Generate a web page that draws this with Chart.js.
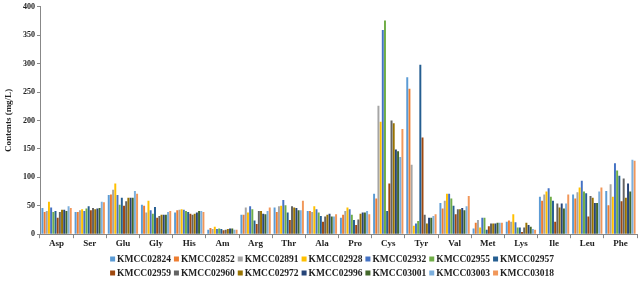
<!DOCTYPE html>
<html>
<head>
<meta charset="utf-8">
<script src="https://cdn.jsdelivr.net/npm/chart.js@4.4.1/dist/chart.umd.min.js"></script>
<style>
html,body{margin:0;padding:0;background:#fff;}
#wrap{width:644px;height:285px;position:relative;}
</style>
</head>
<body>
<div id="wrap"><canvas id="c" width="644" height="285"></canvas></div>
<script>
const categories = ["Asp","Ser","Glu","Gly","His","Am","Arg","Thr","Ala","Pro","Cys","Tyr","Val","Met","Lys","Ile","Leu","Phe"];
const seriesNames = ["KMCC02824","KMCC02852","KMCC02891","KMCC02928","KMCC02932","KMCC02955","KMCC02957","KMCC02959","KMCC02960","KMCC02972","KMCC02996","KMCC03001","KMCC03003","KMCC03018"];
const seriesColors = ["#5B9BD5","#ED7D31","#A5A5A5","#FFC000","#4472C4","#70AD47","#255E91","#9E480E","#636363","#997300","#264478","#43682B","#7CAFDD","#F1975A"];
// values per series, in category order
const KMCC02824 = [46,39,69,52,38,8,34,47,41,29,71,276,55,10,22,66,70,76];
const KMCC02852 = [39,39,70,50,42,11,34,39,41,34,63,256,45,20,24,59,63,51];
const KMCC02891 = [41,42,78,38,43,9,47,49,39,41,226,122,59,25,22,70,74,88];
const KMCC02928 = [57,44,89,59,44,13,38,50,49,47,198,15,71,12,35,75,82,66];
const KMCC02932 = [47,41,69,42,43,9,49,60,44,44,359,19,71,29,21,81,94,125];
const KMCC02955 = [39,45,52,36,41,10,44,51,38,34,376,23,63,29,12,66,75,112];
const KMCC02957 = [41,49,64,48,39,9,24,38,32,25,41,298,50,8,12,59,72,103];
const KMCC02959 = [29,42,50,29,36,7,18,25,22,16,89,170,35,14,4,22,31,58];
const KMCC02960 = [39,46,58,32,34,8,41,49,31,26,200,34,44,19,12,54,67,98];
const KMCC02972 = [43,44,64,34,36,9,41,47,34,36,195,19,44,19,20,47,64,64];
const KMCC02996 = [43,45,64,34,38,10,36,46,36,38,149,29,46,19,16,54,55,89];
const KMCC03001 = [41,46,64,34,41,10,35,42,31,38,146,29,42,20,13,45,55,75];
const KMCC03003 = [49,57,76,39,41,8,41,42,31,41,136,32,49,20,9,54,75,131];
const KMCC03018 = [46,56,71,41,39,8,47,59,35,35,185,35,67,20,8,70,82,129];
const seriesValues = [KMCC02824,KMCC02852,KMCC02891,KMCC02928,KMCC02932,KMCC02955,KMCC02957,KMCC02959,KMCC02960,KMCC02972,KMCC02996,KMCC03001,KMCC03003,KMCC03018];
const yTicks = [0,50,100,150,200,250,300,350,400];

const serif = "'Liberation Serif','Times New Roman',serif";
const datasets = seriesNames.map((n,i)=>({
  label:n, data:seriesValues[i], backgroundColor:seriesColors[i], borderWidth:0,
  categoryPercentage:0.92, barPercentage:0.9
}));

// legend drawn from the chart's datasets: 7 items per row, centred
const legendPlugin = {
  id:'rowLegend',
  afterDraw(chart){
    const ctx = chart.ctx;
    const ds = chart.data.datasets;
    const perRow = 7, box = 5, gap = 2, itemGap = 3;
    const rowsY = [259, 273];
    const cx = 332;
    ctx.save();
    ctx.font = "bold 9.5px " + serif;
    ctx.textBaseline = 'middle';
    for (let r=0; r*perRow<ds.length; r++){
      const items = ds.slice(r*perRow, r*perRow+perRow);
      const widths = items.map(d=>box+gap+ctx.measureText(d.label).width);
      const total = widths.reduce((a,b)=>a+b,0) + itemGap*(items.length-1);
      let x = cx - total/2;
      const y = rowsY[r];
      items.forEach((d,i)=>{
        ctx.fillStyle = d.backgroundColor;
        ctx.fillRect(x, y-box/2, box, box);
        ctx.fillStyle = '#222';
        ctx.fillText(d.label, x+box+gap, y+0.5);
        x += widths[i] + itemGap;
      });
    }
    ctx.restore();
  }
};

new Chart(document.getElementById('c'),{
  type:'bar',
  data:{labels:categories,datasets:datasets},
  plugins:[legendPlugin],
  options:{
    responsive:false, animation:false,
    layout:{padding:{left:3,right:7,top:2,bottom:36}},
    plugins:{
      legend:{display:false},
      tooltip:{enabled:false}
    },
    scales:{
      x:{
        grid:{display:true,drawOnChartArea:false,offset:true,tickLength:4,color:'#888'},
        border:{color:'#888'},
        ticks:{font:{family:serif,size:9,weight:'bold'},color:'#222',padding:0,maxRotation:0}
      },
      y:{
        min:0,max:400,
        afterBuildTicks:(s)=>{s.ticks=yTicks.map(v=>({value:v}));},
        afterFit:(s)=>{s.width=37;},
        grid:{display:true,drawOnChartArea:false,tickLength:3,color:'#888'},
        border:{color:'#888'},
        ticks:{font:{family:serif,size:8,weight:'bold'},color:'#222',padding:2},
        title:{display:true,text:'Contents (mg/L)',font:{family:serif,size:9,weight:'bold'},color:'#222',padding:0}
      }
    }
  }
});
</script>
</body>
</html>
